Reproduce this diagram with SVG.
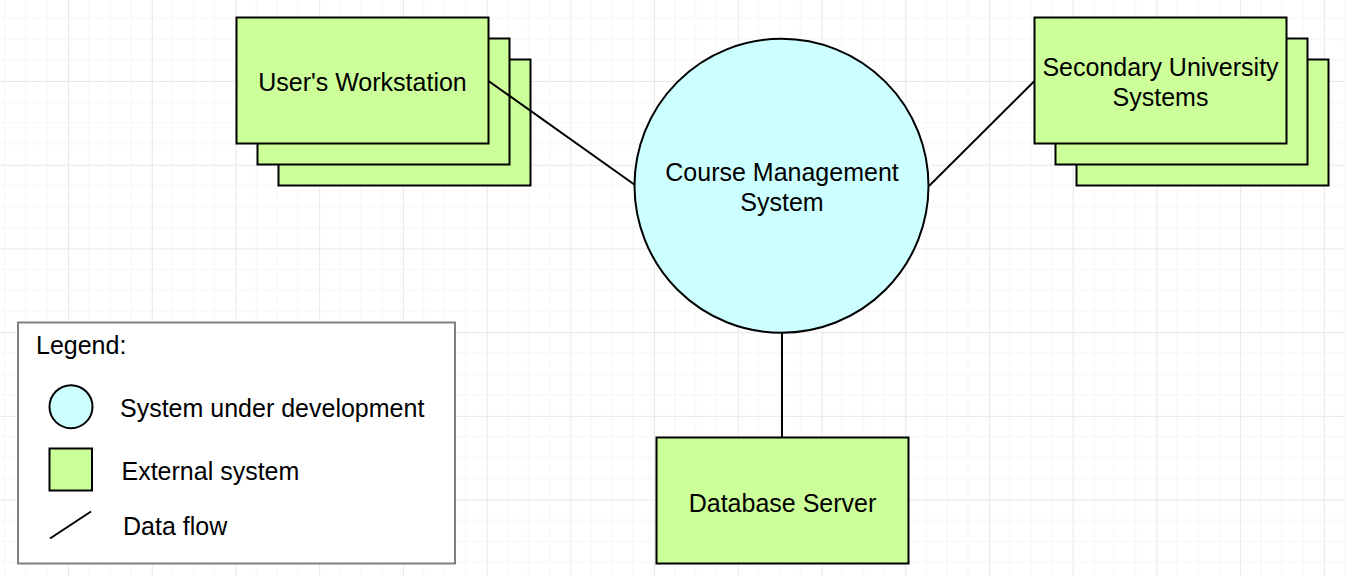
<svg xmlns="http://www.w3.org/2000/svg" width="1345" height="576" viewBox="0 0 1345 576">
  <defs>
    <pattern id="grid" patternUnits="userSpaceOnUse" x="68" y="81" width="83.72" height="83.72">
      <path d="M20.93 0V83.72M41.86 0V83.72M62.79 0V83.72M0 20.93H83.72M0 41.86H83.72M0 62.79H83.72" stroke="#f5f5f5" stroke-width="1" fill="none"/>
      <path d="M0.5 0V83.72M0 0.5H83.72" stroke="#e8e8e8" stroke-width="1" fill="none"/>
    </pattern>
  </defs>
  <style>
    .ext { fill: #CCFF99; stroke: #000; stroke-width: 2; }
    .sys { fill: #CCFFFF; stroke: #000; stroke-width: 2; }
    .flow { stroke: #000; stroke-width: 2; fill: none; }
    text { font-family: "Liberation Sans", Arial, sans-serif; font-size: 25px; fill: #000; }
    .c { text-anchor: middle; }
  </style>
  <rect width="1345" height="576" fill="#ffffff"/>
  <rect width="1345" height="576" fill="url(#grid)"/>

  <g id="users-workstation">
    <rect class="ext" x="278.5" y="59.5" width="252" height="126"/>
    <rect class="ext" x="257.5" y="38.5" width="252" height="126"/>
    <rect class="ext" x="236.5" y="17.5" width="252" height="126"/>
    <text class="c" x="362.5" y="91">User's Workstation</text>
  </g>

  <g id="secondary-university-systems">
    <rect class="ext" x="1076.5" y="59.5" width="252" height="126"/>
    <rect class="ext" x="1055.5" y="38.5" width="252" height="126"/>
    <rect class="ext" x="1034.5" y="17.5" width="252" height="126"/>
    <text class="c" x="1160.5" y="76">Secondary University</text>
    <text class="c" x="1160.5" y="106">Systems</text>
  </g>

  <g id="course-management-system">
    <circle class="sys" cx="781.5" cy="185.8" r="147"/>
    <text class="c" x="782" y="181">Course Management</text>
    <text class="c" x="782" y="211">System</text>
  </g>

  <g id="database-server">
    <rect class="ext" x="656.5" y="437.5" width="252" height="126"/>
    <text class="c" x="782.5" y="511.5">Database Server</text>
  </g>

  <g id="connectors">
    <line class="flow" x1="488.5" y1="81" x2="635" y2="185"/>
    <line class="flow" x1="1034.5" y1="81" x2="929" y2="186"/>
    <line class="flow" x1="782" y1="333" x2="782" y2="437.5"/>
  </g>

  <g id="legend">
    <rect x="18" y="322.5" width="437" height="241" fill="#ffffff" stroke="#808080" stroke-width="2"/>
    <text x="36" y="354">Legend:</text>
    <circle class="sys" cx="71" cy="406.7" r="21.5"/>
    <text x="120" y="416.5">System under development</text>
    <rect class="ext" x="49.5" y="448.5" width="42.5" height="42"/>
    <text x="121.5" y="480">External system</text>
    <line class="flow" x1="50" y1="538.5" x2="91" y2="511.5"/>
    <text x="123" y="534.5">Data flow</text>
  </g>
</svg>
